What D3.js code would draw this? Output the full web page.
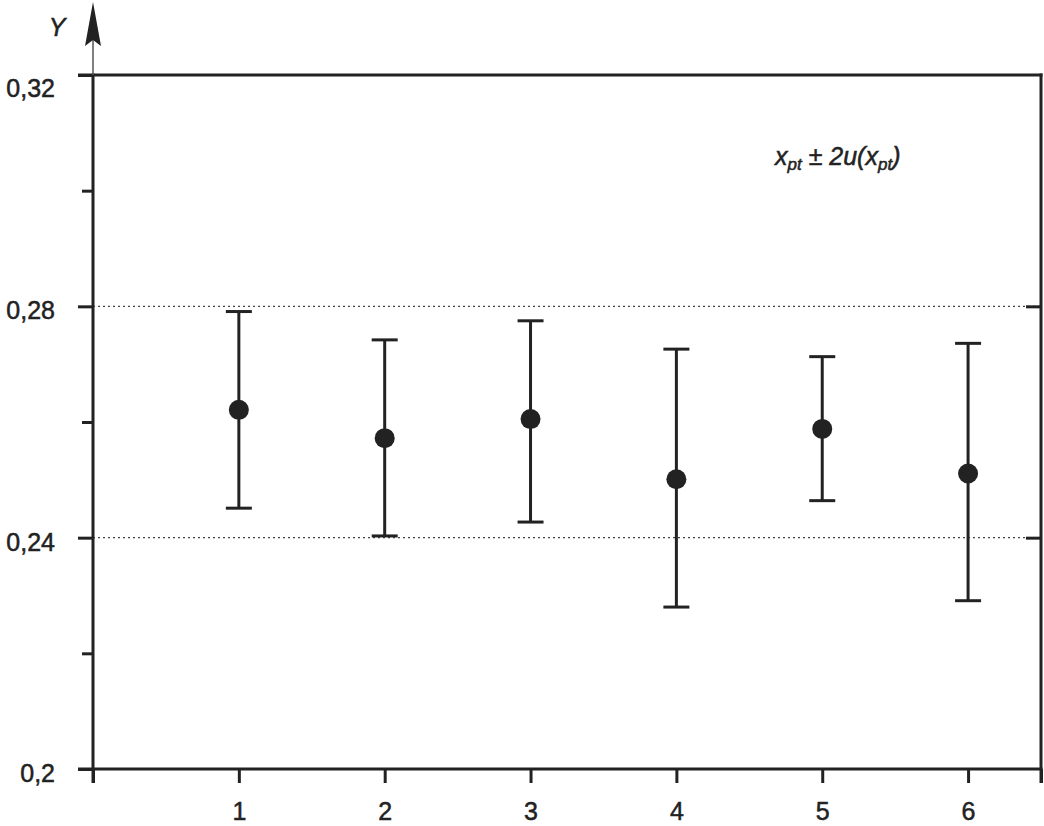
<!DOCTYPE html>
<html>
<head>
<meta charset="utf-8">
<script src="https://cdn.jsdelivr.net/npm/d3@7"></script>
<style>
  html, body { margin: 0; padding: 0; background: #fff; }
  svg { display: block; font-family: "Liberation Sans", Arial, sans-serif; }
  .lbl { stroke: #222; stroke-width: 0.5px; paint-order: stroke; }
</style>
</head>
<body>
<svg id="chart" width="1044" height="826"></svg>
<script>
// ---- data ----
const categories = [1, 2, 3, 4, 5, 6];
const values = [0.2621, 0.2572, 0.2605, 0.2501, 0.2588, 0.2511];
const upper  = [0.2791, 0.2742, 0.2775, 0.2726, 0.2713, 0.2736];
const lower  = [0.2451, 0.2403, 0.2427, 0.2280, 0.2464, 0.2291];
const yTicksMajor = [0.20, 0.24, 0.28, 0.32];
const yTicksMinor = [0.22, 0.26, 0.30];
const gridValues = [0.24, 0.28];
const yAxisTitle = "Y";

(function () {
// ---- layout ----
const svg = d3.select("#chart");
const ink = "#222";
const mL = 93, mR = 1041, mT = 75, mB = 769;

const x = d3.scaleLinear().domain([0, 6.5]).range([mL, mR]);
const y = d3.scaleLinear().domain([0.2, 0.32]).range([mB, mT]);
const fmt = v => String(+v.toFixed(2)).replace(".", ",");

// grid lines (dotted)
svg.append("g").selectAll("line").data(gridValues).join("line")
  .attr("x1", mL).attr("x2", mR)
  .attr("y1", d => y(d)).attr("y2", d => y(d))
  .attr("stroke", "#444").attr("stroke-width", 1.2)
  .attr("stroke-dasharray", "2,3");

// top frame line (extends left like a tick)
svg.append("line")
  .attr("x1", mL - 15).attr("x2", mR + 1.5)
  .attr("y1", y(0.32)).attr("y2", y(0.32))
  .attr("stroke", ink).attr("stroke-width", 3);

// left axis: major ticks
const yAxisMajor = d3.axisLeft(y).tickValues(yTicksMajor).tickSize(15).tickFormat(fmt).tickPadding(8);
const gL = svg.append("g").attr("transform", `translate(${mL},0)`).call(yAxisMajor);
gL.select(".domain").remove();
gL.selectAll(".tick line").attr("stroke", ink).attr("stroke-width", 3);
gL.selectAll(".tick text")
  .attr("class", "lbl")
  .attr("fill", ink).attr("font-size", 25)
  .attr("x", -38)
  .attr("dy", d => d === 0.32 ? "0.85em" : "0.5em");

// left axis: minor ticks
const yAxisMinor = d3.axisLeft(y).tickValues(yTicksMinor).tickSize(11).tickFormat("");
const gLm = svg.append("g").attr("transform", `translate(${mL},0)`).call(yAxisMinor);
gLm.select(".domain").remove();
gLm.selectAll(".tick line").attr("stroke", ink).attr("stroke-width", 3);

// right axis: inward ticks
const yAxisRight = d3.axisLeft(y).tickValues(gridValues).tickSize(15).tickFormat("");
const gR = svg.append("g").attr("transform", `translate(${mR},0)`).call(yAxisRight);
gR.select(".domain").remove();
gR.selectAll(".tick line").attr("stroke", ink).attr("stroke-width", 3);

// bottom axis
const xAxis = d3.axisBottom(x).tickValues([0, ...categories, 6.5]).tickSize(14)
  .tickFormat(d => categories.includes(d) ? String(d) : "").tickPadding(19);
const gB = svg.append("g").attr("transform", `translate(0,${mB})`).call(xAxis);
gB.select(".domain").remove();
gB.selectAll(".tick line").attr("stroke", ink).attr("stroke-width", 3);
gB.selectAll(".tick text").attr("class", "lbl").attr("fill", ink).attr("font-size", 25);

// bottom axis line
svg.append("line")
  .attr("x1", mL - 15).attr("x2", mR + 1.5)
  .attr("y1", mB).attr("y2", mB)
  .attr("stroke", ink).attr("stroke-width", 3);

// left and right vertical frame lines
svg.append("line").attr("x1", mL).attr("x2", mL)
  .attr("y1", y(0.32) - 1.5).attr("y2", mB + 14)
  .attr("stroke", ink).attr("stroke-width", 3);
svg.append("line").attr("x1", mR).attr("x2", mR)
  .attr("y1", y(0.32) - 1.5).attr("y2", mB + 14)
  .attr("stroke", ink).attr("stroke-width", 3);

// arrow above y axis
svg.append("line").attr("x1", mL).attr("x2", mL)
  .attr("y1", y(0.32)).attr("y2", 40)
  .attr("stroke", "#555").attr("stroke-width", 1.5);
svg.append("path")
  .attr("d", `M${mL},2 L${mL + 8},46 L${mL},40 L${mL - 8},46 Z`)
  .attr("fill", ink);

// y title
svg.append("text").attr("class", "lbl").attr("x", 57).attr("y", 36)
  .attr("text-anchor", "middle").attr("font-size", 25).attr("font-style", "italic")
  .attr("fill", ink).text(yAxisTitle);

// error bars
const data = categories.map((c, i) => ({ c, v: values[i], hi: upper[i], lo: lower[i] }));
const eb = svg.append("g").selectAll("g").data(data).join("g");
eb.append("line")
  .attr("x1", d => x(d.c)).attr("x2", d => x(d.c))
  .attr("y1", d => y(d.hi)).attr("y2", d => y(d.lo))
  .attr("stroke", ink).attr("stroke-width", 3);
eb.append("line")
  .attr("x1", d => x(d.c) - 13).attr("x2", d => x(d.c) + 13)
  .attr("y1", d => y(d.hi)).attr("y2", d => y(d.hi))
  .attr("stroke", ink).attr("stroke-width", 3);
eb.append("line")
  .attr("x1", d => x(d.c) - 13).attr("x2", d => x(d.c) + 13)
  .attr("y1", d => y(d.lo)).attr("y2", d => y(d.lo))
  .attr("stroke", ink).attr("stroke-width", 3);
eb.append("circle")
  .attr("cx", d => x(d.c)).attr("cy", d => y(d.v)).attr("r", 10)
  .attr("fill", ink);

// legend label
const lg = svg.append("text").attr("class", "lbl").attr("x", 775).attr("y", 165)
  .attr("font-size", 25).attr("font-style", "italic").attr("fill", ink);
lg.append("tspan").text("x");
lg.append("tspan").attr("font-size", 17).attr("dy", 5).text("pt");
lg.append("tspan").attr("dy", -5).text(" ± 2u(x");
lg.append("tspan").attr("font-size", 17).attr("dy", 5).text("pt");
lg.append("tspan").attr("dy", -5).text(")");
})();
</script>
</body>
</html>
